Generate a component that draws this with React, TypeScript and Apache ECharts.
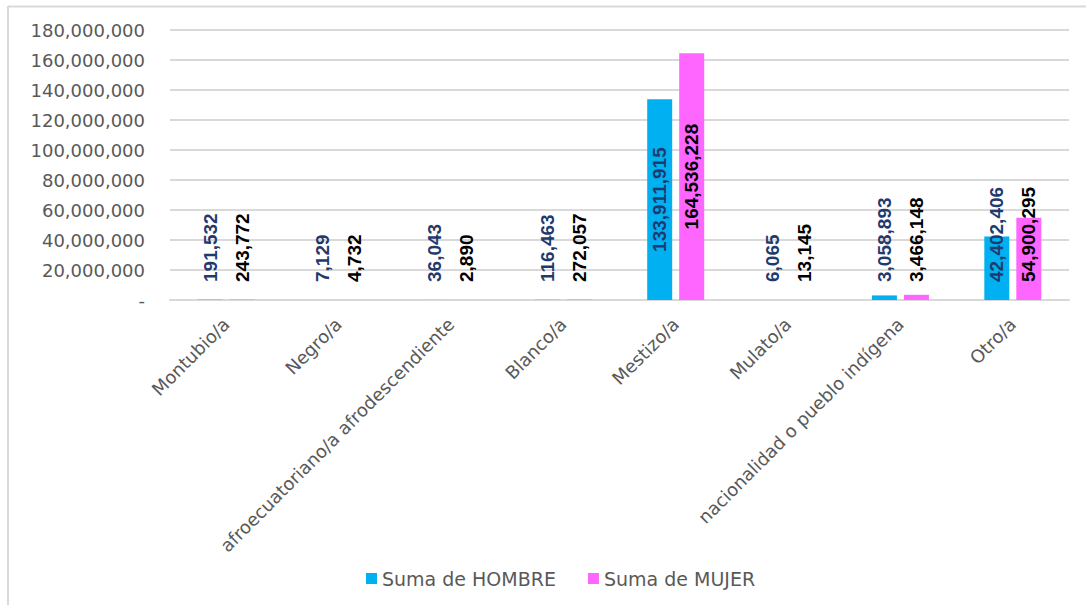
import React, { useEffect, useRef } from "react";
import * as echarts from "echarts";

const categories = [
  "Montubio/a",
  "Negro/a",
  "afroecuatoriano/a afrodescendiente",
  "Blanco/a",
  "Mestizo/a",
  "Mulato/a",
  "nacionalidad o pueblo indígena",
  "Otro/a",
];
const hombre = [191532, 7129, 36043, 116463, 133911915, 6065, 3058893, 42402406];
const mujer = [243772, 4732, 2890, 272057, 164536228, 13145, 3466148, 54900295];
const centeredLabelCategories = ["Mestizo/a"];
const seriesNames = ["Suma de HOMBRE", "Suma de MUJER"];
const yMax = 180000000;
const yInterval = 20000000;

const fmt = (v: number) => v.toLocaleString("en-US");

function makeData(values: number[]) {
  return values.map((v, i) => {
    const centered = centeredLabelCategories.includes(categories[i]);
    return {
      value: v,
      label: centered
        ? {
            position: "inside",
            rotate: 90,
            align: "center",
            verticalAlign: "middle",
          }
        : {
            position: "insideBottom",
            distance: 18,
            rotate: 90,
            align: "left",
            verticalAlign: "middle",
          },
    };
  });
}

export default function App() {
  const ref = useRef<HTMLDivElement>(null);
  useEffect(() => {
    if (!ref.current) return;
    const chart = echarts.init(ref.current, null, { renderer: "svg" });
    const labelBase = {
      show: true,
      fontFamily: "Liberation Sans, Arial, sans-serif",
      fontSize: 19,
      fontWeight: "bold",
      formatter: (p: any) => fmt(p.value),
    };
    chart.setOption({
      animation: false,
      backgroundColor: "#ffffff",
      graphic: [
        { type: "line", shape: { x1: 8, y1: 6.5, x2: 1086, y2: 6.5 }, style: { stroke: "#D9D9D9", lineWidth: 2 } },
        { type: "line", shape: { x1: 8, y1: 6, x2: 8, y2: 605 }, style: { stroke: "#D9D9D9", lineWidth: 2 } },
      ],
      grid: { left: 170, right: 17, top: 30, bottom: 305, containLabel: false },
      legend: {
        data: seriesNames,
        bottom: 12,
        left: 361,
        icon: "rect",
        itemWidth: 11,
        itemHeight: 11,
        itemGap: 32,
        textStyle: { color: "#595959", fontSize: 19, fontFamily: "DejaVu Sans, sans-serif" },
      },
      xAxis: {
        type: "category",
        data: categories,
        axisLine: { lineStyle: { color: "#D9D9D9", width: 2 } },
        axisTick: { show: false },
        axisLabel: {
          rotate: 45,
          interval: 0,
          margin: 21,
          color: "#595959",
          fontSize: 18,
          fontFamily: "DejaVu Sans, sans-serif",
        },
      },
      yAxis: {
        type: "value",
        min: 0,
        max: yMax,
        interval: yInterval,
        axisLine: { show: false },
        axisTick: { show: false },
        splitLine: { lineStyle: { color: "#D9D9D9", width: 2 } },
        axisLabel: {
          margin: 25,
          color: "#595959",
          fontSize: 18,
          fontFamily: "DejaVu Sans, sans-serif",
          formatter: (v: number) => (v === 0 ? "-" : fmt(v)),
        },
      },
      series: [
        {
          name: seriesNames[0],
          type: "bar",
          barWidth: 25,
          barGap: "28%",
          itemStyle: { color: "#00B0F0" },
          label: { ...labelBase, color: "#1F3A6E" },
          data: makeData(hombre),
        },
        {
          name: seriesNames[1],
          type: "bar",
          barWidth: 25,
          itemStyle: { color: "#FF66FF" },
          label: { ...labelBase, color: "#000000" },
          data: makeData(mujer),
        },
      ],
    });
    return () => chart.dispose();
  }, []);
  return (
    <div
      ref={ref}
      style={{ position: "fixed", left: 0, top: 0, width: 1086, height: 605, background: "#fff" }}
    />
  );
}
